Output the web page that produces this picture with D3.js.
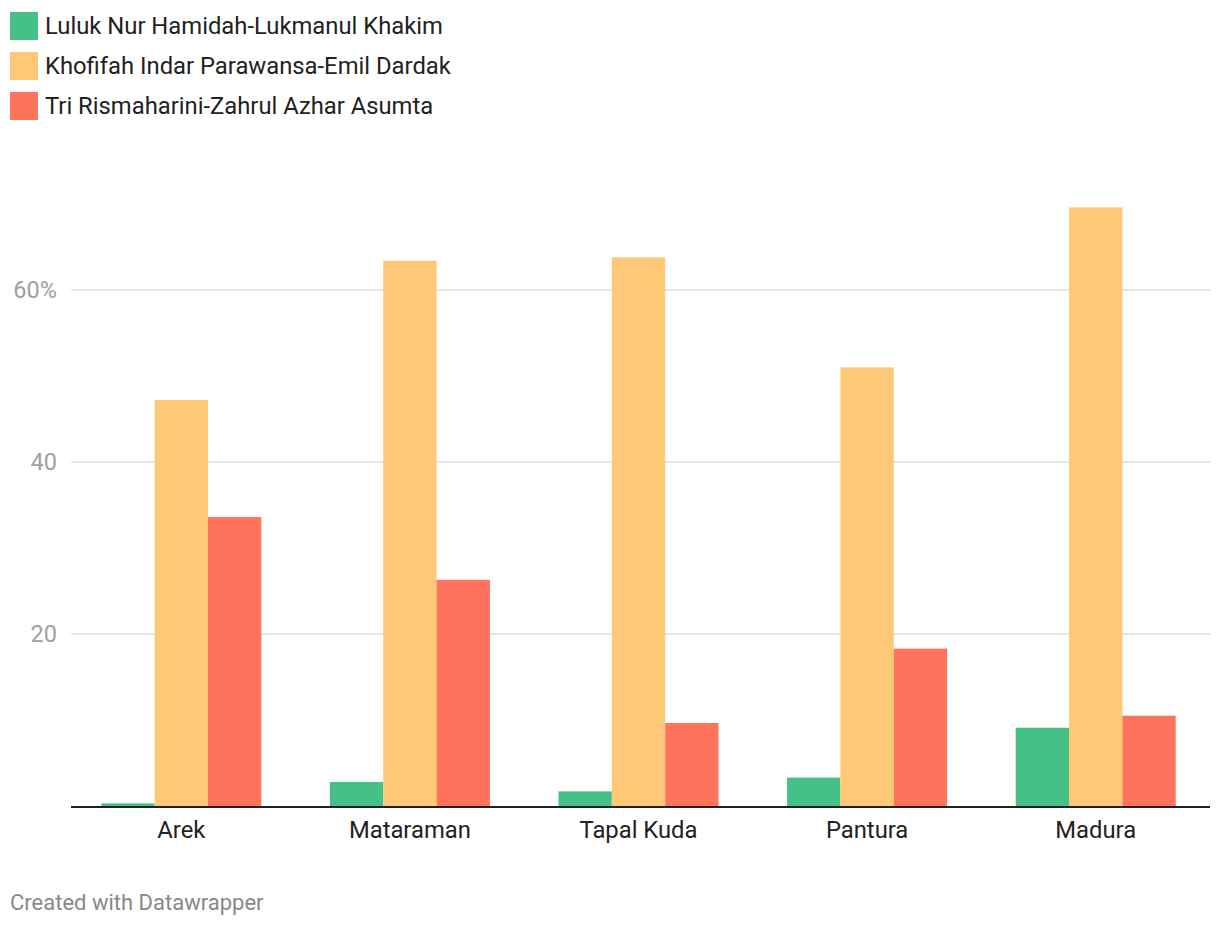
<!DOCTYPE html>
<html><head><meta charset="utf-8">
<script src="https://cdn.jsdelivr.net/npm/d3@7"></script>
<style>body{margin:0;background:#fff;font-family:Roboto,sans-serif;}</style>
</head><body><svg id="c" width="1220" height="928"></svg>
<script>
const categories = ["Arek", "Mataraman", "Tapal Kuda", "Pantura", "Madura"];
const seriesNames = ["Luluk Nur Hamidah-Lukmanul Khakim", "Khofifah Indar Parawansa-Emil Dardak", "Tri Rismaharini-Zahrul Azhar Asumta"];
const luluk = [0.3, 2.8, 1.7, 3.3, 9.1];
const khofifah = [47.2, 63.4, 63.8, 51.0, 69.6];
const risma = [33.6, 26.3, 9.65, 18.3, 10.5];
const colors = ["#45c086", "#fdc977", "#ff735d"];
const yTicks = [20, 40, 60];
const yTickLabels = ["20", "40", "60%"];

const values = [luluk, khofifah, risma];
const svg = d3.select("#c");
const x0 = d3.scaleBand().domain(categories).range([67, 1210]).paddingInner(0.3).paddingOuter(0.15);
const x1 = d3.scaleBand().domain(d3.range(seriesNames.length)).range([0, x0.bandwidth()]);
const y = d3.scaleLinear().domain([0, 60]).range([806, 290]);

// legend
const leg = svg.append("g");
seriesNames.forEach((n, i) => {
  const g = leg.append("g").attr("transform", `translate(10,${12 + i * 40})`);
  g.append("rect").attr("width", 28).attr("height", 28).attr("fill", colors[i]);
  g.append("text").attr("x", 35).attr("y", 22).attr("font-size", 23.8).attr("fill", "#222").text(n);
});

// gridlines
svg.append("g").selectAll("line").data(yTicks).join("line")
  .attr("x1", 71).attr("x2", 1210).attr("y1", d => y(d)).attr("y2", d => y(d))
  .attr("stroke", "#e6e6e6").attr("stroke-width", 2);
svg.append("g").selectAll("text").data(yTicks).join("text")
  .attr("x", 57).attr("y", d => y(d) + 8).attr("text-anchor", "end")
  .attr("font-size", 23.5).attr("fill", "#a0a0a0").text((d, i) => yTickLabels[i]);

// bars
const groups = svg.append("g").selectAll("g").data(categories).join("g")
  .attr("transform", d => `translate(${x0(d)},0)`);
groups.selectAll("rect").data((c, ci) => values.map((s, si) => ({si, v: s[ci]}))).join("rect")
  .attr("x", d => x1(d.si)).attr("width", x1.bandwidth())
  .attr("y", d => y(d.v)).attr("height", d => y(0) - y(d.v))
  .attr("fill", d => colors[d.si]);

// baseline
svg.append("line").attr("x1", 71).attr("x2", 1210).attr("y1", y(0) + 1).attr("y2", y(0) + 1)
  .attr("stroke", "#222").attr("stroke-width", 2);

// x labels
svg.append("g").selectAll("text").data(categories).join("text")
  .attr("x", d => x0(d) + x0.bandwidth() / 2).attr("y", 838).attr("text-anchor", "middle")
  .attr("font-size", 23.8).attr("fill", "#222").text(d => d);

svg.append("text").attr("x", 10).attr("y", 910).attr("font-size", 22).attr("fill", "#888")
  .text("Created with Datawrapper");
</script></body></html>
